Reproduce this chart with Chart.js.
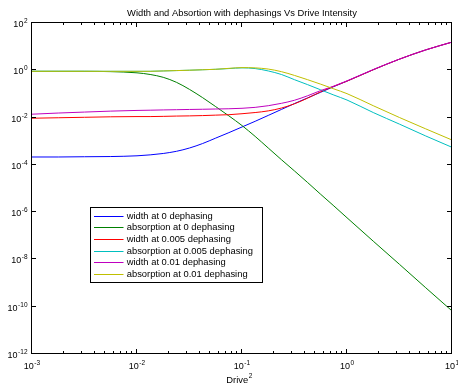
<!DOCTYPE html>
<html><head><meta charset="utf-8">
<script src="https://cdn.jsdelivr.net/npm/chart.js@4.4.1/dist/chart.umd.min.js"></script>
<style>html,body{margin:0;padding:0;background:#fff;} #wrap{width:458px;height:384px;}</style>
</head><body>
<div id="wrap"><canvas id="c" width="458" height="384"></canvas></div>
<script>
// ---- data ----
const drive2 = [0.001, 0.001778, 0.003162, 0.005623, 0.01, 0.01334, 0.01778, 0.02371, 0.03162, 0.04217, 0.05623, 0.07499,
  0.1, 0.1334, 0.1778, 0.2371, 0.3162, 0.4217, 0.5623, 0.7499, 1, 1.778, 3.162, 5.623, 10];
const widthDeph0    = [1.95e-4, 1.95e-4, 2.0e-4, 2.04e-4, 2.19e-4, 2.40e-4, 2.75e-4, 3.39e-4, 4.68e-4, 7.24e-4, 1.23e-3, 2.09e-3,
  3.63e-3, 6.31e-3, 1.12e-2, 2.0e-2, 3.55e-2, 6.17e-2, 0.107, 0.186, 0.316, 0.955, 2.69, 6.61, 14.1];
const absorbDeph0   = [0.82, 0.82, 0.82, 0.794, 0.708, 0.603, 0.457, 0.282, 0.141, 6.31e-2, 2.63e-2, 1.07e-2,
  4.17e-3, 1.45e-3, 4.68e-4, 1.51e-4, 5.01e-5, 1.62e-5, 5.13e-6, 1.66e-6, 5.25e-7, 5.37e-8, 5.62e-9, 5.75e-10, 6.03e-11];
const widthDeph005  = [8.51e-3, 8.91e-3, 9.33e-3, 9.77e-3, 1.0e-2, 1.0e-2, 1.02e-2, 1.05e-2, 1.07e-2, 1.10e-2, 1.15e-2, 1.20e-2,
  1.32e-2, 1.48e-2, 1.74e-2, 2.29e-2, 3.47e-2, 6.03e-2, 0.112, 0.191, 0.316, 0.955, 2.69, 6.61, 14.1];
const absorbDeph005 = [0.82, 0.82, 0.82, 0.82, 0.82, 0.822, 0.851, 0.881, 0.912, 0.955, 1.0, 1.072,
  1.148, 1.072, 0.851, 0.603, 0.363, 0.224, 0.135, 8.13e-2, 5.01e-2, 1.48e-2, 4.79e-3, 1.51e-3, 5.01e-4];
const widthDeph01   = [1.26e-2, 1.41e-2, 1.55e-2, 1.70e-2, 1.82e-2, 1.86e-2, 1.91e-2, 1.95e-2, 2.0e-2, 2.04e-2, 2.09e-2, 2.14e-2,
  2.24e-2, 2.45e-2, 2.88e-2, 3.63e-2, 4.90e-2, 7.59e-2, 0.126, 0.195, 0.324, 0.977, 2.69, 6.61, 14.1];
const absorbDeph01  = [0.82, 0.82, 0.82, 0.82, 0.82, 0.822, 0.851, 0.881, 0.912, 0.955, 1.0, 1.096,
  1.175, 1.148, 1.023, 0.794, 0.550, 0.363, 0.234, 0.148, 9.33e-2, 2.88e-2, 9.12e-3, 3.02e-3, 1.02e-3];

const seriesLabels = ['width at 0 dephasing', 'absorption at 0 dephasing', 'width at 0.005 dephasing',
  'absorption at 0.005 dephasing', 'width at 0.01 dephasing', 'absorption at 0.01 dephasing'];
const seriesValues = [widthDeph0, absorbDeph0, widthDeph005, absorbDeph005, widthDeph01, absorbDeph01];
const seriesColors = ['rgb(0,0,255)', 'rgb(0,128,0)', 'rgb(255,0,0)', 'rgb(0,191,191)', 'rgb(191,0,191)', 'rgb(191,191,0)'];

const xMajorTicks = [0.001, 0.01, 0.1, 1, 10];
const xTickExps = ['-3', '-2', '-1', '0', '1'];
const yMajorTicks = [1e2, 1e0, 1e-2, 1e-4, 1e-6, 1e-8, 1e-10, 1e-12];
const yTickExps = ['2', '0', '-2', '-4', '-6', '-8', '-10', '-12'];
const minorMultipliers = [2, 3, 4, 5, 6, 7, 8, 9];
const titleText = 'Width and Absortion with dephasings Vs Drive Intensity';
const xTitleBase = 'Drive', xTitleSup = '2';

// ---- drawing ----
const FONT = '"Liberation Sans", Arial, Helvetica, sans-serif';
const BASE_PX = 9, EXP_PX = 6.5, TEXT_PX = 9.4;

function drawPow(ctx, exp, x, baseline, align) {
  ctx.font = BASE_PX + 'px ' + FONT; const bw = ctx.measureText('10').width;
  ctx.font = EXP_PX + 'px ' + FONT; const ew = ctx.measureText(exp).width;
  const total = bw + ew + 0.5;
  const left = align === 'right' ? x - total : x - total / 2;
  ctx.textAlign = 'left'; ctx.textBaseline = 'alphabetic';
  ctx.font = BASE_PX + 'px ' + FONT; ctx.fillText('10', left, baseline);
  ctx.font = EXP_PX + 'px ' + FONT; ctx.fillText(exp, left + bw + 0.5, baseline - 4);
}

const decor = {
  id: 'decor',
  afterDatasetsDraw(chart) {
    const ctx = chart.ctx, a = chart.chartArea, xs = chart.scales.x, ys = chart.scales.y;
    const L = a.left - 0.5, R = a.right - 0.5, T = a.top + 0.5, B = a.bottom + 0.5;
    ctx.save();
    ctx.fillStyle = '#000'; ctx.strokeStyle = '#000'; ctx.lineWidth = 1;
    ctx.beginPath();
    xMajorTicks.forEach((v, i) => {
      const px = Math.round(xs.getPixelForValue(v)) - 0.5;
      ctx.moveTo(px, B); ctx.lineTo(px, B - 4.5);
      ctx.moveTo(px, T); ctx.lineTo(px, T + 4.5);
      if (i < xMajorTicks.length - 1) {
        minorMultipliers.forEach(m => {
          const mx = Math.round(xs.getPixelForValue(v * m)) - 0.5;
          ctx.moveTo(mx, B); ctx.lineTo(mx, B - 2.5);
          ctx.moveTo(mx, T); ctx.lineTo(mx, T + 2.5);
        });
      }
    });
    yMajorTicks.forEach(v => {
      const py = Math.round(ys.getPixelForValue(v)) + 0.5;
      ctx.moveTo(L, py); ctx.lineTo(L + 4.5, py);
      ctx.moveTo(R, py); ctx.lineTo(R - 4.5, py);
    });
    ctx.stroke();
    ctx.strokeRect(L, T, R - L, B - T);

    xMajorTicks.forEach((v, i) => drawPow(ctx, xTickExps[i], xs.getPixelForValue(v), a.bottom + 15.5, 'center'));
    yMajorTicks.forEach((v, i) => drawPow(ctx, yTickExps[i], a.left - 4.5, ys.getPixelForValue(v) + 5, 'right'));

    ctx.font = TEXT_PX + 'px ' + FONT; ctx.textAlign = 'center'; ctx.textBaseline = 'alphabetic';
    ctx.fillText(titleText, (a.left + a.right) / 2, 16);

    ctx.font = TEXT_PX + 'px ' + FONT; const dw = ctx.measureText(xTitleBase).width;
    ctx.font = '6.5px ' + FONT; const sw = ctx.measureText(xTitleSup).width;
    const xl = 239 - (dw + sw) / 2;
    ctx.textAlign = 'left';
    ctx.font = TEXT_PX + 'px ' + FONT; ctx.fillText(xTitleBase, xl, 382.5);
    ctx.font = '6.5px ' + FONT; ctx.fillText(xTitleSup, xl + dw + 0.5, 378);

    const lx0 = 90.5, ly0 = 207.5, lx1 = 262.5, ly1 = 282.5;
    ctx.fillStyle = '#fff'; ctx.fillRect(lx0, ly0, lx1 - lx0, ly1 - ly0);
    ctx.strokeStyle = '#000'; ctx.strokeRect(lx0, ly0, lx1 - lx0, ly1 - ly0);
    ctx.font = TEXT_PX + 'px ' + FONT; ctx.textBaseline = 'middle'; ctx.textAlign = 'left';
    seriesLabels.forEach((lab, i) => {
      const cy = 215.7 + i * 11.66;
      ctx.strokeStyle = seriesColors[i]; ctx.lineWidth = 1;
      ctx.beginPath(); ctx.moveTo(94, Math.round(cy) + 0.5); ctx.lineTo(123.5, Math.round(cy) + 0.5); ctx.stroke();
      ctx.fillStyle = '#000'; ctx.fillText(lab, 126.7, cy + 0.5);
    });
    ctx.restore();
  }
};

const drawOrder = [6, 5, 4, 3, 2, 1];
new Chart(document.getElementById('c'), {
  type: 'line',
  data: {
    datasets: seriesValues.map((vals, i) => ({
      label: seriesLabels[i],
      data: drive2.map((x, j) => ({ x: x, y: vals[j] })),
      borderColor: seriesColors[i],
      backgroundColor: seriesColors[i],
      borderWidth: 1,
      pointRadius: 0,
      fill: false,
      cubicInterpolationMode: 'monotone',
      order: drawOrder[i]
    }))
  },
  options: {
    responsive: false, animation: false, devicePixelRatio: 1,
    layout: { padding: { left: 32, right: 6, top: 22, bottom: 31 } },
    plugins: { legend: { display: false }, title: { display: false }, tooltip: { enabled: false } },
    scales: {
      x: { type: 'logarithmic', min: 0.001, max: 10, display: false },
      y: { type: 'logarithmic', min: 1e-12, max: 100, display: false }
    }
  },
  plugins: [decor]
});
</script>
</body></html>
